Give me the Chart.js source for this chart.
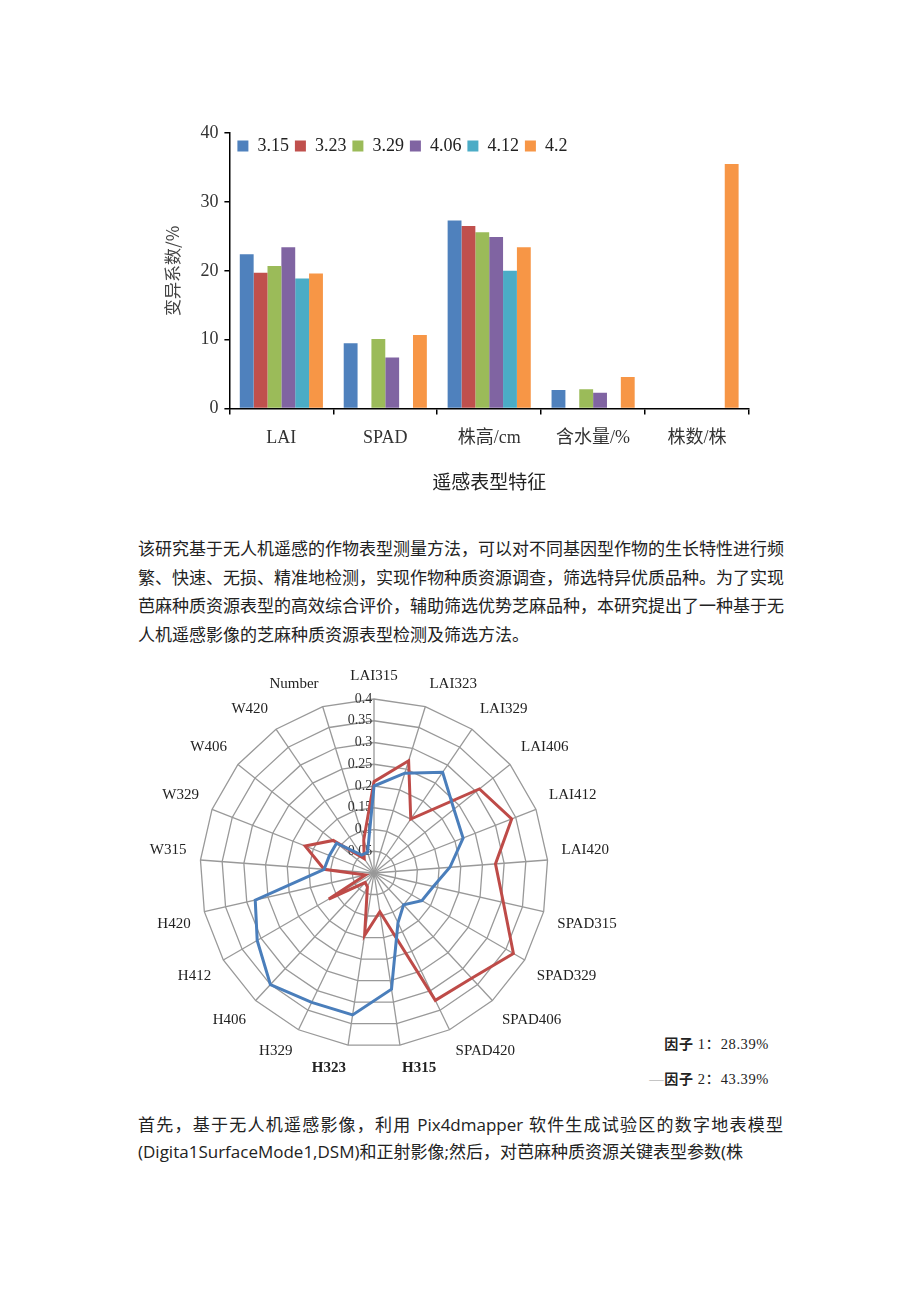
<!DOCTYPE html>
<html>
<head>
<meta charset="utf-8">
<script src="https://cdn.jsdelivr.net/npm/chart.js@4.4.1/dist/chart.umd.min.js"></script>
<style>
  html, body { margin: 0; padding: 0; background: #fff; }
  #page { position: relative; width: 920px; height: 1301px; overflow: hidden; }
  #bar-wrap { position: absolute; left: 150px; top: 112px; width: 615px; height: 381px; }
  #radar-wrap { position: absolute; left: 141px; top: 652px; width: 486px; height: 440px; }
  .para { position: absolute; left: 138px; width: 645px; color: #222;
          font-family: "Noto Sans CJK SC", sans-serif; font-size: 17px; }
  .para div { text-align: justify; text-align-last: justify; white-space: nowrap; }
  .para div.last { text-align-last: left; }
  #p1 { top: 534px; line-height: 28.5px; }
  #p2 { top: 1111px; line-height: 27px; font-family: "Open Sans", "Noto Sans CJK SC", sans-serif; }
  #radar-legend { position: absolute; right: 151px; top: 1026px; text-align: right;
                  font-family: "Liberation Serif", "Noto Sans CJK SC", serif; font-size: 14.5px;
                  letter-spacing: 0.6px; color: #222; line-height: 34px; }
  #radar-legend b { font-family: "Noto Sans CJK SC", sans-serif; font-size: 14px; }
</style>
</head>
<body>
<div id="page">
  <div id="bar-wrap"><canvas id="bar-chart"></canvas></div>

  <div class="para" id="p1">
    <div>该研究基于无人机遥感的作物表型测量方法，可以对不同基因型作物的生长特性进行频</div>
    <div>繁、快速、无损、精准地检测，实现作物种质资源调查，筛选特异优质品种。为了实现</div>
    <div>芭麻种质资源表型的高效综合评价，辅助筛选优势芝麻品种，本研究提出了一种基于无</div>
    <div class="last">人机遥感影像的芝麻种质资源表型检测及筛选方法。</div>
  </div>

  <div id="radar-wrap"><canvas id="radar-chart"></canvas></div>
  <div id="radar-legend">
    <div><b>因子</b> 1：28.39%</div>
    <div><span style="color:#999">—</span><b>因子</b> 2：43.39%</div>
  </div>

  <div class="para" id="p2">
    <div>首先，基于无人机遥感影像，利用 Pix4dmapper 软件生成试验区的数字地表模型</div>
    <div class="last">(Digita1SurfaceMode1,DSM)和正射影像;然后，对芭麻种质资源关键表型参数(株</div>
  </div>
</div>

<script>
// bar chart data: coefficient of variation per trait, one series per survey date
const traits = ['LAI', 'SPAD', '株高/cm', '含水量/%', '株数/株'];
const dates = ['3.15', '3.23', '3.29', '4.06', '4.12', '4.2'];
const cv315 = [22.4, 9.5, 27.3, 2.7, null];
const cv323 = [19.7, null, 26.5, null, null];
const cv329 = [20.7, 10.1, 25.6, 2.8, null];
const cv406 = [23.4, 7.4, 24.9, 2.3, null];
const cv412 = [18.9, null, 20.0, null, null];
const cv420 = [19.6, 10.7, 23.4, 4.6, 35.5];
const barColors = ['#4f81bd', '#c0504d', '#9bbb59', '#8064a2', '#4bacc6', '#f79646'];
const yTicks = [0, 10, 20, 30, 40];

// radar data: factor loadings
const radarLabels = ['LAI315', 'LAI323', 'LAI329', 'LAI406', 'LAI412', 'LAI420',
  'SPAD315', 'SPAD329', 'SPAD406', 'SPAD420',
  'H315', 'H323', 'H329', 'H406', 'H412', 'H420',
  'W315', 'W329', 'W406', 'W420', 'Number'];
const factor1 = [0.20, 0.24, 0.28, 0.235, 0.22, 0.175, 0.14, 0.127, 0.10, 0.127,
  0.27, 0.33, 0.33, 0.35, 0.31, 0.28, 0.115, 0.11, 0.11, 0.05, 0.05];
const factor2 = [0.21, 0.27, 0.15, 0.31, 0.34, 0.28, 0.305, 0.37, 0.33, 0.325,
  0.09, 0.145, 0.035, 0.03, 0.12, 0.02, 0.115, 0.17, 0.12, 0.04, 0.08];

const serif = '"Liberation Serif", "Noto Sans CJK SC", serif';

// legend sits inside the plot, top left just right of the y axis (like excel does)
const legendInside = {
    id: 'legendInside',
    beforeUpdate(chart) {
        const lg = chart.legend;
        if (lg && !lg._inside) {
            const fit = lg.fit;
            lg.fit = function () {
                fit.call(this);
                this._realHeight = this.height;
                this.height = 0;
            };
            lg._inside = true;
        }
    },
    afterLayout(chart) {
        const lg = chart.legend;
        const area = chart.chartArea;
        const shift = area.left + 2 - lg.left;
        lg.left += shift;
        lg.right += shift;
        lg.top = area.top - 2;
        lg.height = lg._realHeight;
        lg.bottom = lg.top + lg.height;
    }
};

const seriesValues = [cv315, cv323, cv329, cv406, cv412, cv420];
new Chart(document.getElementById('bar-chart'), {
    type: 'bar',
    data: {
        labels: traits,
        datasets: dates.map((d, i) => ({
            label: d,
            data: seriesValues[i],
            backgroundColor: barColors[i],
            borderWidth: 0,
            categoryPercentage: 0.8,
            barPercentage: 1.0
        }))
    },
    plugins: [legendInside],
    options: {
        responsive: true,
        maintainAspectRatio: false,
        animation: false,
        layout: { padding: { left: 12, right: 16, top: 21, bottom: 0 } },
        plugins: {
            legend: {
                position: 'top',
                align: 'start',
                labels: {
                    boxWidth: 11,
                    boxHeight: 11,
                    padding: 6,
                    color: '#222',
                    font: { family: serif, size: 18 }
                }
            },
            tooltip: { enabled: false }
        },
        scales: {
            x: {
                grid: { display: true, offset: true, drawOnChartArea: false, tickLength: 6, color: '#000', lineWidth: 1.5 },
                border: { display: true, color: '#000', width: 1.5 },
                ticks: { color: '#333', padding: 13, font: { family: serif, size: 18 } },
                title: { display: true, text: '遥感表型特征', color: '#222', padding: { top: 8, bottom: 0 },
                         font: { family: '"Noto Sans CJK SC", sans-serif', size: 19 } }
            },
            y: {
                min: 0,
                max: 40,
                afterBuildTicks: axis => { axis.ticks = yTicks.map(v => ({ value: v })); },
                grid: { display: true, drawOnChartArea: false, tickLength: 5, color: '#000', lineWidth: 1.5 },
                border: { display: true, color: '#000', width: 1.5 },
                ticks: { color: '#333', padding: 6, font: { family: serif, size: 18 } },
                title: { display: true, text: '变异系数/%', color: '#444', padding: { top: 0, bottom: 12 },
                         font: { family: '"Noto Sans CJK SC", sans-serif', size: 17 } }
            }
        }
    }
});

const boldLabels = ['H315', 'H323'];
new Chart(document.getElementById('radar-chart'), {
    type: 'radar',
    data: {
        labels: radarLabels,
        datasets: [
            { label: '因子 1：28.39%', data: factor1, borderColor: '#4a7ebb', borderWidth: 3,
              fill: false, pointRadius: 0, tension: 0 },
            { label: '因子 2：43.39%', data: factor2, borderColor: '#be4b48', borderWidth: 3,
              fill: false, pointRadius: 0, tension: 0 }
        ]
    },
    options: {
        responsive: true,
        maintainAspectRatio: false,
        animation: false,
        plugins: { legend: { display: false }, tooltip: { enabled: false } },
        scales: {
            r: {
                min: 0,
                max: 0.4,
                ticks: {
                    stepSize: 0.05,
                    showLabelBackdrop: false,
                    color: '#333',
                    font: { family: serif, size: 14 },
                    callback: v => {
                        const s = String(+v.toFixed(2));
                        return s + ' '.repeat(s.length * 2);
                    }
                },
                grid: { color: '#999', lineWidth: 1.3, circular: false },
                angleLines: { color: '#999', lineWidth: 1.3 },
                pointLabels: {
                    color: '#222',
                    padding: 5,
                    font: ctx => ({
                        family: serif,
                        size: 15,
                        weight: boldLabels.includes(ctx.label) ? 'bold' : 'normal'
                    })
                }
            }
        }
    }
});
</script>
</body>
</html>
